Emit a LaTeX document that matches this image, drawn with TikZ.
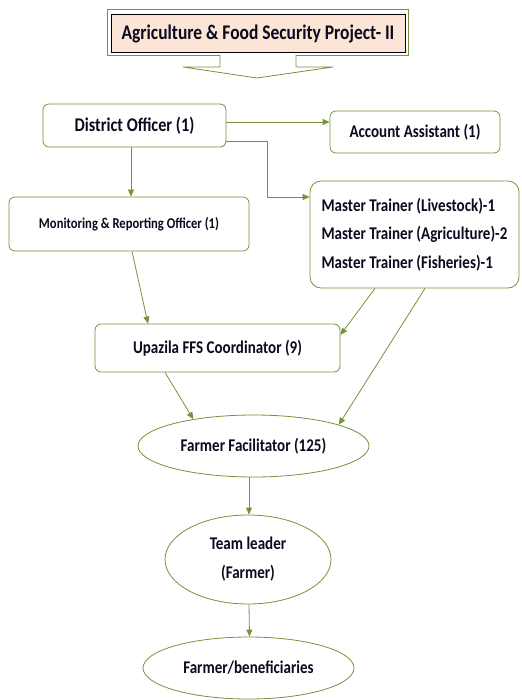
\documentclass[tikz,border=0pt]{standalone}
\usepackage{fontspec}
\setmainfont{Carlito}[FakeStretch=0.84]
\usetikzlibrary{arrows.meta,shapes.geometric}
\definecolor{gline}{HTML}{76923C}
\definecolor{peach}{HTML}{FCE4D6}
\definecolor{txt}{HTML}{0A0A1E}
\tikzset{
  box/.style={draw=gline, line width=0.8pt, rounded corners=6pt, fill=white, inner sep=0pt,
    font=\fontsize{17.9}{21}\selectfont\bfseries, text=txt},
  ell/.style={draw=gline, line width=0.8pt, ellipse, inner sep=0pt, fill=white,
    font=\fontsize{17.9}{21}\selectfont\bfseries, text=txt},
  arr/.style={draw=gline, line width=0.8pt, -{Triangle[length=7pt,width=6pt]}},
}
\begin{document}
\begin{tikzpicture}[x=1pt,y=-1pt]
\useasboundingbox (0,0) rectangle (521,700);
% title
\draw[gline, line width=0.9pt, fill=white] (107,9) rectangle (408,55);
\node[draw=black, line width=0.7pt, fill=peach, minimum width=294pt, minimum height=38pt, inner sep=0pt, text=txt,
  font=\fontsize{20.8}{24}\selectfont\bfseries] (title) at (258,33.5) {Agriculture \& Food Security Project- II};
\draw[gline, line width=0.8pt, fill=white] (220,55) -- (220,67) -- (183,67) -- (257,78) -- (333,67) -- (296,67) -- (296,55);
% nodes
\node[box, minimum width=183pt, minimum height=43pt, font=\fontsize{19.4}{22}\selectfont\bfseries] (dist) at (134.5,125.5) {District Officer (1)};
\node[box, minimum width=170pt, minimum height=42pt] (acct) at (415,132) {Account Assistant (1)};
\node[box, minimum width=240pt, minimum height=54pt, font=\fontsize{15}{18}\selectfont\bfseries] (mon) at (129,224) {Monitoring \& Reporting Officer (1)};
\node[box, rounded corners=11pt, minimum width=209pt, minimum height=107pt, align=left,
  font=\fontsize{17.9}{28.5}\selectfont\bfseries] (mast) at (414.5,234.5)
  {Master Trainer (Livestock)-1\\Master Trainer (Agriculture)-2\\Master Trainer (Fisheries)-1};
\node[box, minimum width=245pt, minimum height=48pt] (upz) at (217.5,348) {Upazila FFS Coordinator (9)};
\node[ell, minimum width=231pt, minimum height=62pt] (ff) at (253.5,446) {Farmer Facilitator (125)};
\node[ell, minimum width=166pt, minimum height=89pt, align=center, font=\fontsize{17.9}{29}\selectfont\bfseries] (team) at (248,559.5) {Team leader\\(Farmer)};
\node[ell, minimum width=211pt, minimum height=62pt] (farm) at (248.5,668) {Farmer/beneficiaries};
% connectors
\draw[arr] ([yshift=3.5pt]dist.east) coordinate (a1) -- (a1 -| acct.west);
\draw[arr] ([yshift=-15.5pt]dist.east) -- ++(41,0) |- ([yshift=37.5pt]mast.west);
\draw[arr] ([xshift=-3.5pt]dist.south) coordinate (b1) -- (b1 |- mon.north);
\draw[arr] ([xshift=3pt]mon.south) -- ([xshift=-69.5pt]upz.north);
\draw[arr] ([xshift=-39.5pt]mast.south) -- ([yshift=13pt]upz.east);
\draw[arr] ([xshift=10.5pt]mast.south) -- (ff.14);
\draw[arr] ([xshift=-52.5pt]upz.south) -- (ff.156);
\draw[arr] ([xshift=1pt]team.north |- ff.south) -- ([xshift=1pt]team.north);
\draw[arr] ([xshift=1pt]team.south) -- ([xshift=1pt]farm.north);
\end{tikzpicture}
\end{document}
